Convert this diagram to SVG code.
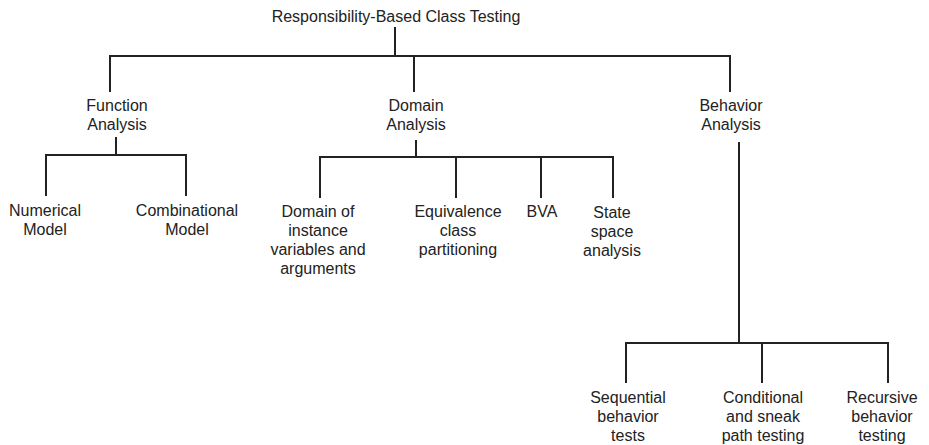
<svg xmlns="http://www.w3.org/2000/svg" width="929" height="445" viewBox="0 0 929 445">
  <style>
    .t { font-family: "Liberation Sans", Arial, sans-serif; font-size: 16px; fill: #222; text-anchor: middle; }
    .c { fill: none; stroke: #222; stroke-width: 2; }
  </style>
  <rect width="929" height="445" fill="#fff"/>

  <g id="connectors">
    <!-- root -->
    <path class="c" d="M395 27 V56 M110 92 V56 H730 V92 M414 56 V92"/>
    <!-- function analysis -->
    <path class="c" d="M116 137 V155 M46 196 V155 H186 V196"/>
    <!-- domain analysis -->
    <path class="c" d="M416 140 V157 M320 198 V157 H613 V198 M456 157 V198 M541 157 V198"/>
    <!-- behavior analysis -->
    <path class="c" d="M739 142 V343 M626 383 V343 H888 V383 M762 343 V383"/>
  </g>

  <g id="root"><text class="t" x="396" y="22">Responsibility-Based Class Testing</text></g>

  <g id="function-analysis"><text class="t" x="117" y="111">Function</text><text class="t" x="117" y="130">Analysis</text></g>
  <g id="domain-analysis"><text class="t" x="416" y="111">Domain</text><text class="t" x="416" y="130">Analysis</text></g>
  <g id="behavior-analysis"><text class="t" x="731" y="111">Behavior</text><text class="t" x="731" y="130">Analysis</text></g>

  <g id="numerical-model"><text class="t" x="45" y="216">Numerical</text><text class="t" x="45" y="235">Model</text></g>
  <g id="combinational-model"><text class="t" x="187" y="216">Combinational</text><text class="t" x="187" y="235">Model</text></g>

  <g id="domain-of-instance"><text class="t" x="318" y="217">Domain of</text><text class="t" x="318" y="236">instance</text><text class="t" x="318" y="255">variables and</text><text class="t" x="318" y="274">arguments</text></g>
  <g id="equivalence-class"><text class="t" x="458" y="217">Equivalence</text><text class="t" x="458" y="236">class</text><text class="t" x="458" y="255">partitioning</text></g>
  <g id="bva"><text class="t" x="542" y="217">BVA</text></g>
  <g id="state-space"><text class="t" x="612" y="218">State</text><text class="t" x="612" y="237">space</text><text class="t" x="612" y="256">analysis</text></g>

  <g id="sequential"><text class="t" x="628" y="403">Sequential</text><text class="t" x="628" y="422">behavior</text><text class="t" x="628" y="441">tests</text></g>
  <g id="conditional"><text class="t" x="763" y="403">Conditional</text><text class="t" x="763" y="422">and sneak</text><text class="t" x="763" y="441">path testing</text></g>
  <g id="recursive"><text class="t" x="882" y="403">Recursive</text><text class="t" x="882" y="422">behavior</text><text class="t" x="882" y="441">testing</text></g>
</svg>
